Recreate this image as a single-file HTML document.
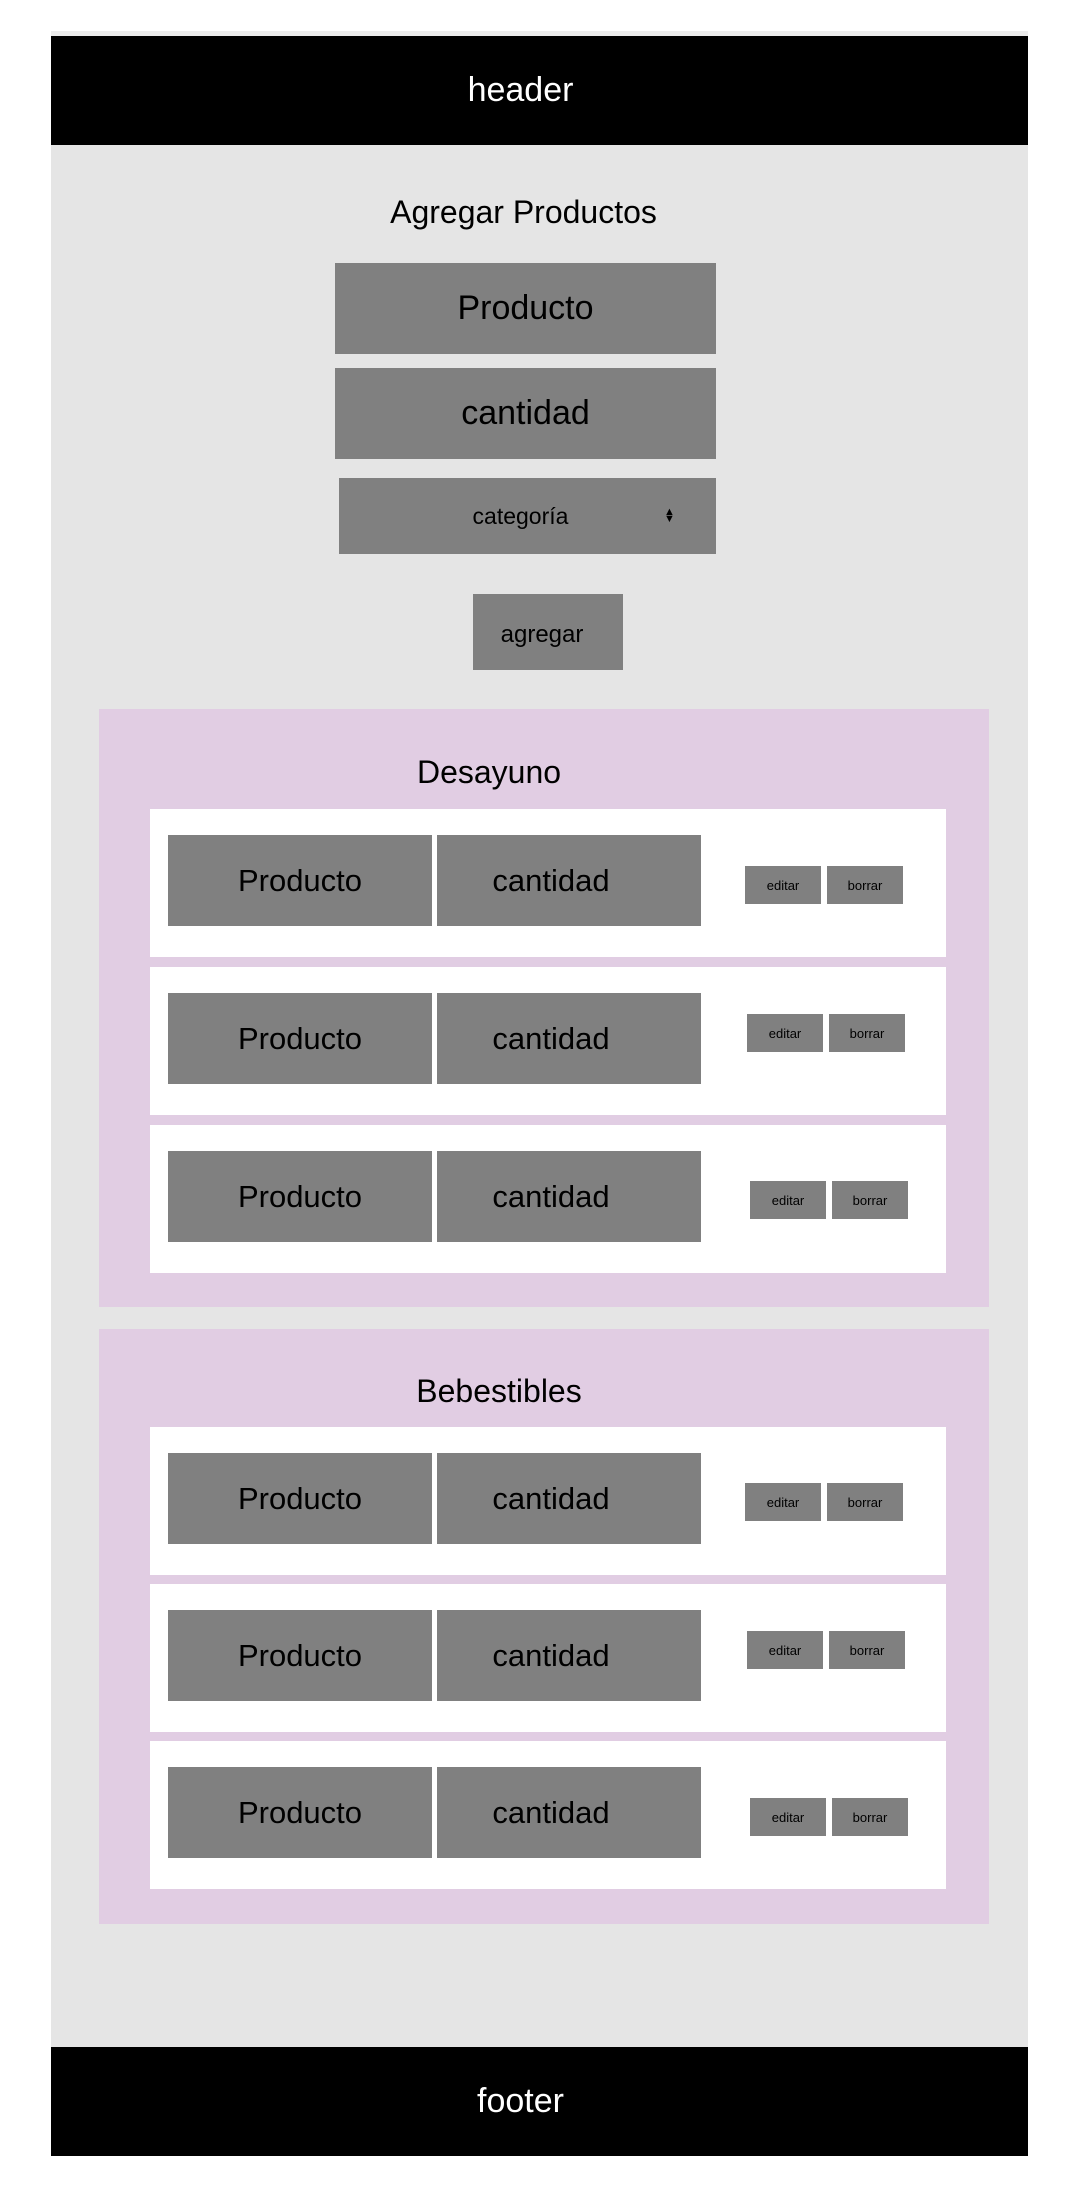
<!DOCTYPE html>
<html><head><meta charset="utf-8"><style>
*{margin:0;padding:0;box-sizing:border-box}
body{width:1070px;height:2202px;background:#fff;position:relative;font-family:"Liberation Sans",sans-serif;overflow:hidden}
.a{position:absolute}
.t{display:flex;align-items:center;justify-content:center;color:#000}
.g{background:#808080}
.p{background:#e1cde3}
.w{background:#fff}
.bt{font-size:13px}
</style></head><body>
<div class="a" style="left:51px;top:31px;width:977px;height:5px;background:#ececec"></div>
<div class="a t" style="left:51px;top:36px;width:977px;height:109px;background:#000;color:#fff;font-size:34px;padding-right:38px">header</div>
<div class="a" style="left:51px;top:145px;width:977px;height:1902px;background:#e5e5e5"></div>
<div class="a t" style="left:51px;top:190px;width:945px;height:44px;font-size:32px">Agregar Productos</div>
<div class="a t g" style="left:335px;top:263px;width:381px;height:91px;font-size:34px">Producto</div>
<div class="a t g" style="left:335px;top:368px;width:381px;height:91px;font-size:34px">cantidad</div>
<div class="a t g" style="left:339px;top:478px;width:377px;height:76px;font-size:23px;padding-right:14px">categoría</div>
<div class="a" style="left:664px;top:509px;font-size:11px;line-height:7px;color:#000">▲<br>▼</div>
<div class="a t g" style="left:473px;top:594px;width:150px;height:76px;font-size:24px;padding-right:12px;padding-top:6px">agregar</div>

<div class="a p" style="left:99px;top:709px;width:890px;height:598px"></div>
<div class="a t" style="left:99px;top:752px;width:780px;height:40px;font-size:32px">Desayuno</div>

<div class="a p" style="left:99px;top:1329px;width:890px;height:595px"></div>
<div class="a t" style="left:99px;top:1371px;width:800px;height:40px;font-size:32px">Bebestibles</div>

<div id="rows"></div>
<script>
var rows=[[809,57,745],[967,47,747],[1125,56,750],[1427,56,745],[1584,47,747],[1741,57,750]];
var h='';
rows.forEach(function(r){
var y=r[0];
h+='<div class="a w" style="left:150px;top:'+y+'px;width:796px;height:148px"></div>';
h+='<div class="a t g" style="left:168px;top:'+(y+26)+'px;width:264px;height:91px;font-size:31px">Producto</div>';
h+='<div class="a t g" style="left:437px;top:'+(y+26)+'px;width:264px;height:91px;font-size:31px;padding-right:36px">cantidad</div>';
h+='<div class="a t g bt" style="left:'+r[2]+'px;top:'+(y+r[1])+'px;width:76px;height:38px">editar</div>';
h+='<div class="a t g bt" style="left:'+(r[2]+82)+'px;top:'+(y+r[1])+'px;width:76px;height:38px">borrar</div>';
});
document.getElementById('rows').innerHTML=h;
</script>
<div class="a t" style="left:51px;top:2047px;width:977px;height:109px;background:#000;color:#fff;font-size:34px;padding-right:38px">footer</div>
</body></html>
